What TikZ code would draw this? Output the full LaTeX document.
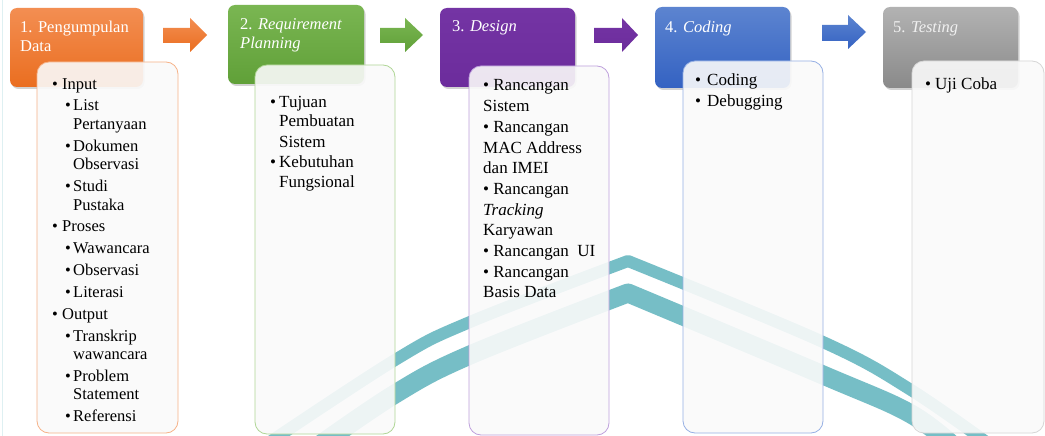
\documentclass[tikz,border=0pt]{standalone}
\usepackage{fontspec}
\setmainfont{Liberation Serif}
\usetikzlibrary{shadows}
\definecolor{orT}{RGB}{243,142,82}
\definecolor{orB}{RGB}{234,110,32}
\definecolor{grT}{RGB}{122,182,82}
\definecolor{grB}{RGB}{96,160,56}
\definecolor{puT}{RGB}{116,52,164}
\definecolor{puB}{RGB}{108,44,156}
\definecolor{blT}{RGB}{92,132,208}
\definecolor{blB}{RGB}{52,98,194}
\definecolor{gyT}{RGB}{178,178,178}
\definecolor{gyB}{RGB}{138,138,138}
\definecolor{orL}{RGB}{246,178,136}
\definecolor{grL}{RGB}{176,214,150}
\definecolor{puL}{RGB}{190,160,220}
\definecolor{blL}{RGB}{150,176,228}
\definecolor{gyL}{RGB}{214,214,214}
\definecolor{teal}{RGB}{118,190,198}
\definecolor{edge}{RGB}{222,240,242}
\definecolor{boxfill}{RGB}{250,250,250}
\newcommand\ba[1]{\makebox[10pt][l]{\textbullet}#1}
\newcommand\bb[1]{\hspace*{13pt}\makebox[8pt][l]{\textbullet}#1}
\newcommand\bc[1]{\hspace*{21pt}#1}
\newcommand\tp[1]{\parbox[t]{150pt}{\raggedright #1}}
\tikzset{
  hdr/.style={rounded corners=7pt, minimum height=79pt, inner sep=0pt,
    drop shadow={opacity=0.35, shadow xshift=1.5pt, shadow yshift=-2pt}},
  cbox/.style={draw, line width=0.8pt, rounded corners=12pt, fill=boxfill, fill opacity=0.9, inner sep=0pt},
  htext/.style={text=white, anchor=base west, inner sep=0pt, font=\fontsize{16.5}{18.5}\selectfont},
  btext/.style={text=black, anchor=base west, inner sep=0pt},
  band/.style={draw=teal, line join=round}
}
\begin{document}
\begin{tikzpicture}[x=1pt,y=-1pt]
\useasboundingbox (0,0) rectangle (1045,436);
\fill[white] (0,0) rectangle (1045,436);
\draw[edge, line width=1.5pt] (2.5,0) -- (2.5,436);
% watermark bands
\begin{scope}
\clip (0,0) rectangle (1045,436);
\draw[band, line width=12pt] plot[smooth, tension=0.6] coordinates {(255,452) (395,360) (470,322) (628,261)} -- plot[smooth, tension=0.6] coordinates {(628,261) (823,342) (911,390) (1000,452)};
\draw[band, line width=19pt] plot[smooth, tension=0.6] coordinates {(310,452) (395,394) (470,355) (628,293)} -- plot[smooth, tension=0.6] coordinates {(628,293) (823,375) (911,414) (960,452)};
\end{scope}
% headers
\node[hdr, top color=orT, bottom color=orB, minimum width=133pt] (h1) at (76.5,47.5) {};
\node[hdr, top color=grT, bottom color=grB, minimum width=136pt] (h2) at (296,44.5) {};
\node[hdr, top color=puT, bottom color=puB, minimum width=135pt] (h3) at (507.5,47.5) {};
\node[hdr, top color=blT, bottom color=blB, minimum width=135pt, minimum height=81pt] (h4) at (722.5,47.5) {};
\node[hdr, top color=gyT, bottom color=gyB, minimum width=135pt, minimum height=81pt] (h5) at (950.5,47.5) {};
% block arrows
\shade[top color=orT, bottom color=orB] (163,28) -- (190,28) -- (190,18) -- (207,35) -- (190,52) -- (190,43) -- (163,43) -- cycle;
\shade[top color=grT, bottom color=grB] (380,28) -- (405,28) -- (405,18) -- (423,35) -- (405,52) -- (405,43) -- (380,43) -- cycle;
\shade[top color=puT, bottom color=puB] (594,28) -- (622,28) -- (622,18) -- (638,35) -- (622,52) -- (622,43) -- (594,43) -- cycle;
\shade[top color=blT, bottom color=blB] (822,25) -- (848,25) -- (848,15) -- (866,32) -- (848,49) -- (848,41) -- (822,41) -- cycle;
% header texts
\node[htext] (t1) at (20,33) {\tp{1. Pengumpulan\\Data}};
\node[htext] (t2) at (240,30) {\tp{2. \textit{Requirement}\\\textit{Planning}}};
\node[htext] (t3) at (452,32) {3. \textit{Design}};
\node[htext] (t4) at (665,33) {4. \textit{Coding}};
\node[htext, text=white!88!gray] (t5) at (893,33) {5. \textit{Testing}};
% content boxes
\node[cbox, draw=orL, minimum width=141pt, minimum height=371pt] (c1) at (107.5,247.5) {};
\node[cbox, draw=grL, minimum width=140pt, minimum height=369pt] (c2) at (325,249.5) {};
\node[cbox, draw=puL, minimum width=140pt, minimum height=369pt] (c3) at (539,250.5) {};
\node[cbox, draw=blL, minimum width=140pt, minimum height=372pt] (c4) at (753,247) {};
\node[cbox, draw=gyL, minimum width=132pt, minimum height=372pt] (c5) at (978,247) {};
% content texts
\node[btext, font=\fontsize{16.5}{18.5}\selectfont] (x1) at (52,89) {\tp{%
\ba{Input}\\[3.35pt]
\bb{List}\\
\bc{Pertanyaan}\\[3.35pt]
\bb{Dokumen}\\
\bc{Observasi}\\[3.35pt]
\bb{Studi}\\
\bc{Pustaka}\\[3.35pt]
\ba{Proses}\\[3.35pt]
\bb{Wawancara}\\[3.35pt]
\bb{Observasi}\\[3.35pt]
\bb{Literasi}\\[3.35pt]
\ba{Output}\\[3.35pt]
\bb{Transkrip}\\
\bc{wawancara}\\[3.35pt]
\bb{Problem}\\
\bc{Statement}\\[3.35pt]
\bb{Referensi}}};
\node[btext, font=\fontsize{17}{20}\selectfont] (x2) at (270,107) {\tp{%
\makebox[9pt][l]{\textbullet}Tujuan\\
\hspace*{9pt}Pembuatan\\
\hspace*{9pt}Sistem\\[1pt]
\makebox[9pt][l]{\textbullet}Kebutuhan\\
\hspace*{9pt}Fungsional}};
\node[btext, font=\fontsize{17}{20.7}\selectfont] (x3) at (483,91) {\tp{%
\textbullet\ Rancangan\\
Sistem\\
\textbullet\ Rancangan\\
MAC Address\\
dan IMEI\\
\textbullet\ Rancangan\\
\textit{Tracking}\\
Karyawan\\
\textbullet\ Rancangan~ UI\\
\textbullet\ Rancangan\\
Basis Data}};
\node[btext, font=\fontsize{17}{21}\selectfont] (x4) at (695,85) {\tp{%
\makebox[12pt][l]{\textbullet}Coding\\
\makebox[12pt][l]{\textbullet}Debugging}};
\node[btext, font=\fontsize{17}{21}\selectfont] (x5) at (925,90) {%
\makebox[10pt][l]{\textbullet}Uji Coba};
\end{tikzpicture}
\end{document}
